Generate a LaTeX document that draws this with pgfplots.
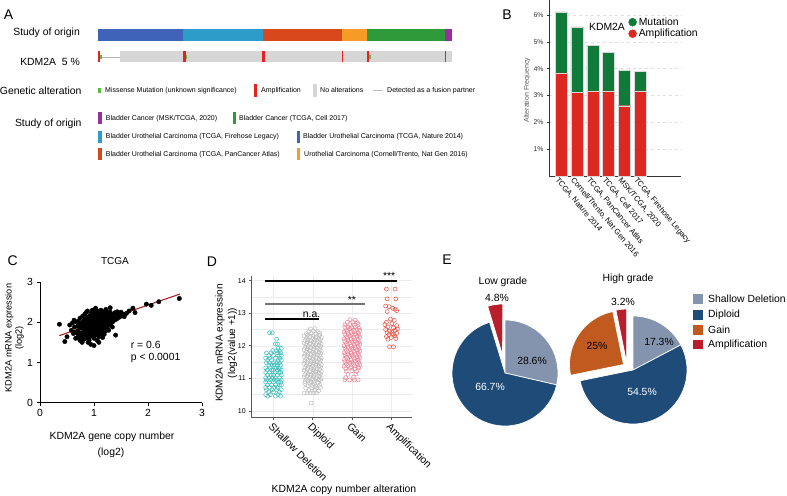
\documentclass[border=0pt]{standalone}
\usepackage{fontspec}
\setmainfont{Liberation Sans}
\usepackage{pgfplots}
\pgfplotsset{compat=1.18}
\usepgfplotslibrary{statistics}

\definecolor{stBlue}{RGB}{63,99,184}
\definecolor{stCyan}{RGB}{46,156,201}
\definecolor{stRed}{RGB}{217,72,28}
\definecolor{stOrange}{RGB}{245,155,38}
\definecolor{stGreen}{RGB}{47,154,58}
\definecolor{stPurple}{RGB}{154,45,160}
\definecolor{noAlt}{RGB}{214,214,214}
\definecolor{ampRed}{RGB}{232,32,32}
\definecolor{misGreen}{RGB}{90,190,60}
\definecolor{bMut}{RGB}{16,122,58}
\definecolor{bAmp}{RGB}{220,40,32}
\definecolor{dSD}{RGB}{59,189,189}
\definecolor{dDip}{RGB}{190,190,190}
\definecolor{dGain}{RGB}{238,130,150}
\definecolor{dAmp}{RGB}{232,74,60}
\definecolor{eSD}{RGB}{132,148,174}
\definecolor{eDip}{RGB}{31,75,120}
\definecolor{eGain}{RGB}{193,90,30}
\definecolor{eAmp}{RGB}{185,30,42}
\definecolor{fitRed}{RGB}{178,34,34}

\newcommand{\fs}[1]{\fontsize{#1bp}{#1bp}\selectfont}
% filled rectangle in the pixel-unit canvas axis
\newcommand{\rect}[5]{\addplot[fill=#5, draw=none] coordinates {(#1,#3) (#2,#3) (#2,#4) (#1,#4)};}

\begin{document}
\begin{tikzpicture}[x=1bp,y=1bp]
\useasboundingbox (0,0) rectangle (787,-496);

% pie angles (percent -> degrees, clockwise from top)
\pgfmathsetmacro\la{90-28.6*3.6}
\pgfmathsetmacro\lb{\la-66.7*3.6}
\pgfmathsetmacro\lc{\lb-4.8*3.6}
\pgfmathsetmacro\ha{90-17.3*3.6}
\pgfmathsetmacro\hb{\ha-54.5*3.6}
\pgfmathsetmacro\hc{\hb-25*3.6}
\pgfmathsetmacro\hd{\hc-3.2*3.6}

% ---------- canvas axis: panel A strips and panel E pies ----------
\begin{axis}[at={(0bp,-496bp)}, anchor=south west, scale only axis,
  width=787bp, height=496bp, xmin=0, xmax=787, ymin=0, ymax=496,
  y dir=reverse, hide axis, clip=false]
% study of origin strip
\rect{97.7}{183.3}{29.3}{40.7}{stBlue}
\rect{183.3}{262.7}{29.3}{40.7}{stCyan}
\rect{262.7}{341.7}{29.3}{40.7}{stRed}
\rect{341.7}{366.7}{29.3}{40.7}{stOrange}
\rect{366.7}{445}{29.3}{40.7}{stGreen}
\rect{445}{451.7}{29.3}{40.7}{stPurple}
% KDM2A row
\addplot[gray!60, line width=0.4bp] coordinates {(100,56.7) (120,56.7)};
\rect{120}{451.7}{51}{62.3}{noAlt}
\rect{97.7}{100}{51}{62.3}{ampRed}
\rect{100}{101.5}{54.5}{59}{misGreen}
\rect{183.3}{185.7}{51}{62.3}{ampRed}
\rect{185.7}{187.3}{54.5}{59}{misGreen}
\rect{262.3}{265}{51}{62.3}{ampRed}
\rect{341.7}{343}{51}{62.3}{ampRed}
\rect{366.7}{369}{51}{62.3}{ampRed}
\rect{369}{370.7}{54.5}{59}{misGreen}
\rect{445}{446.3}{51}{62.3}{ampRed}
% genetic alteration legend
\rect{98}{101}{88}{93}{misGreen}
\rect{254}{257.3}{84}{97}{ampRed}
\rect{313}{317}{84}{97}{noAlt}
\addplot[gray!50, line width=0.4bp] coordinates {(373,90.5) (383,90.5)};
% study of origin legend
\rect{98.3}{101.7}{112.3}{124.3}{stPurple}
\rect{232.7}{236}{112.3}{124.3}{stGreen}
\rect{98.3}{101.7}{130.7}{142.7}{stCyan}
\rect{296.7}{300}{130.7}{142.7}{stBlue}
\rect{98.3}{101.7}{148.3}{160.3}{stRed}
\rect{297}{300.3}{148.3}{160.3}{stOrange}
% pies
\filldraw[fill=eSD, draw=white, line width=0.7bp] (axis cs:505,373) -- ++(90:53bp) arc[start angle=90, end angle=\la, radius=53bp] -- cycle;
\filldraw[fill=eDip, draw=white, line width=0.7bp] (axis cs:505,373) -- ++(\la:53bp) arc[start angle=\la, end angle=\lb, radius=53bp] -- cycle;
\filldraw[fill=eAmp, draw=white, line width=0.7bp] (axis cs:502.5,355) -- ++(\lb:51bp) arc[start angle=\lb, end angle=\lc, radius=51bp] -- cycle;
\filldraw[fill=eSD, draw=white, line width=0.7bp] (axis cs:633,370) -- ++(90:54bp) arc[start angle=90, end angle=\ha, radius=54bp] -- cycle;
\filldraw[fill=eDip, draw=white, line width=0.7bp] (axis cs:633,370) -- ++(\ha:54bp) arc[start angle=\ha, end angle=\hb, radius=54bp] -- cycle;
\filldraw[fill=eGain, draw=white, line width=0.7bp] (axis cs:623.5,364.5) -- ++(\hb:54bp) arc[start angle=\hb, end angle=\hc, radius=54bp] -- cycle;
\filldraw[fill=eAmp, draw=white, line width=0.7bp] (axis cs:626.7,363) -- ++(\hc:54bp) arc[start angle=\hc, end angle=\hd, radius=54bp] -- cycle;
% pie legend
\rect{693}{702.5}{294.3}{303.8}{eSD}
\rect{693}{702.5}{310}{319.5}{eDip}
\rect{693}{702.5}{325.3}{334.8}{eGain}
\rect{693}{702.5}{339.8}{349.3}{eAmp}
\end{axis}

% ---------- panel B ----------
\begin{axis}[at={(549bp,-176bp)}, anchor=south west, scale only axis,
  width=132bp, height=176bp, xmin=-0.77, xmax=7.58, ymin=0, ymax=6.56,
  ybar stacked, bar width=12bp,
  axis x line=bottom, axis y line=left, axis line style={-, black!80, line width=0.6bp},
  xtick={0,...,5},
  xticklabels={{TCGA, Nature 2014},{Cornell/Trento, Nat Gen 2016},{TCGA, PanCancer Atlas},{TCGA, Cell 2017},{MSK/TCGA, 2020},{TCGA, Firehose Legacy}},
  x tick label style={rotate=-50, anchor=north west, font=\fs{7.7}, inner sep=0.5bp, xshift=-3bp},
  xtick style={draw=none},
  ytick={1,...,6}, yticklabel={\pgfmathprintnumber{\tick}\%},
  y tick label style={font=\fs{6.9}, text=black!80},
  ytick style={black!80, line width=0.5bp}, tick align=outside, major tick length=2bp,
  ymajorgrids, major grid style={gray!25, dashed, line width=0.4bp},
  /pgf/number format/assume math mode=true,
  legend style={at={(0.6,0.912)}, anchor=north west, draw=none, fill=none,
    font=\fs{10.4}, row sep=-1.5bp, inner sep=0pt, cells={anchor=west}},
  ]
\addlegendimage{legend image code/.code={\fill[bMut] (0.2cm,0cm) circle (4bp);}}
\addlegendimage{legend image code/.code={\fill[bAmp] (0.2cm,0cm) circle (4bp);}}
\legend{Mutation, Amplification}
\addplot[fill=bAmp, draw=white!85!black, line width=0.4bp] coordinates {(0,3.84) (1,3.12) (2,3.17) (3,3.17) (4,2.62) (5,3.17)};
\addplot[fill=bMut, draw=white!85!black, line width=0.4bp] coordinates {(0,2.28) (1,2.44) (2,1.705) (3,1.45) (4,1.33) (5,0.73)};
\end{axis}

% ---------- panel C ----------
\begin{axis}[at={(40bp,-402.7bp)}, anchor=south west, scale only axis,
  width=162bp, height=120.7bp, xmin=0, xmax=3, ymin=0, ymax=3,
  axis x line=bottom, axis y line=left, axis line style={-, line width=0.8bp},
  xtick={0,1,2,3}, ytick={0,1,2,3},
  tick align=outside, major tick length=3.5bp, tick style={line width=0.8bp, black},
  ticklabel style={font=\fs{10.4}},
  /pgf/number format/assume math mode=true, clip=false]
\addplot[only marks, mark=*, mark size=2.2bp, black] coordinates {
(0.70,1.62) (0.70,1.78) (0.70,1.90) (0.70,2.02) (0.71,1.70)
(0.74,1.55) (0.74,1.85) (0.73,1.96) (0.74,2.10) (0.75,1.68)
(0.78,1.60) (0.78,1.74) (0.77,1.88) (0.78,2.00) (0.79,2.15) (0.78,1.50)
(0.82,1.66) (0.82,1.80) (0.81,1.93) (0.82,2.05) (0.83,2.20) (0.82,1.58)
(0.85,1.72) (0.85,1.85) (0.86,1.97) (0.85,2.08) (0.85,1.62) (0.86,2.25)
(0.88,1.68) (0.88,1.78) (0.89,1.90) (0.88,2.00) (0.88,2.12) (0.89,1.50) (0.88,2.28)
(0.91,1.62) (0.91,1.75) (0.92,1.86) (0.91,1.95) (0.91,2.05) (0.92,2.16) (0.91,1.55)
(0.94,1.70) (0.94,1.82) (0.95,1.92) (0.94,2.02) (0.94,2.10) (0.95,2.22) (0.94,1.45)
(0.97,1.65) (0.97,1.76) (0.98,1.88) (0.97,1.98) (0.97,2.07) (0.98,2.18) (0.97,2.30)
(1.00,1.60) (1.00,1.72) (1.01,1.84) (1.00,1.94) (1.00,2.03) (1.01,2.12) (1.00,2.25) (1.00,1.42)
(1.03,1.68) (1.03,1.80) (1.04,1.90) (1.03,2.00) (1.03,2.09) (1.04,2.20) (1.03,2.35)
(1.06,1.74) (1.06,1.86) (1.07,1.96) (1.06,2.05) (1.06,2.15) (1.07,2.28) (1.06,1.55)
(1.09,1.64) (1.09,1.78) (1.10,1.90) (1.09,2.00) (1.09,2.10) (1.10,2.22) (1.09,1.50)
(1.12,1.70) (1.12,1.84) (1.13,1.95) (1.12,2.06) (1.12,2.16) (1.13,2.30)
(1.15,1.76) (1.15,1.88) (1.16,1.98) (1.15,2.08) (1.15,2.20) (1.16,1.62)
(1.18,1.82) (1.18,1.93) (1.19,2.03) (1.18,2.12) (1.18,2.25) (1.19,1.70)
(1.21,1.78) (1.21,1.90) (1.22,2.00) (1.21,2.10) (1.21,2.18) (1.22,2.32)
(1.24,1.85) (1.24,1.96) (1.25,2.06) (1.24,2.15) (1.24,2.26)
(1.27,1.92) (1.27,2.02) (1.28,2.12) (1.27,2.22) (1.27,1.80)
(1.30,1.95) (1.30,2.05) (1.31,2.15) (1.30,2.25) (1.30,2.36)
(1.34,2.00) (1.34,2.10) (1.35,2.20) (1.34,1.88)
(1.38,2.05) (1.38,2.15) (1.39,2.24) (1.40,1.68)
(1.42,2.08) (1.42,2.18) (1.43,2.26)
(1.46,2.12) (1.46,2.21) (1.50,2.15) (1.50,2.25) (1.55,2.20) (1.56,2.14)
(1.60,2.22) (1.65,2.28)
(0.36,1.95) (0.46,1.52) (0.50,1.64) (0.55,1.93) (0.58,1.80) (0.62,1.72)
(0.64,1.88) (0.66,1.60) (0.68,2.00) (0.60,1.98) (0.66,1.75) (0.63,2.05)
(1.72,2.35) (1.76,2.24) (1.97,2.45) (2.06,2.42) (2.20,2.51) (2.58,2.59)
};
\addplot[fitRed, line width=1.1bp] coordinates {(0.357,1.667) (2.59,2.70)};
\end{axis}

% ---------- panel D ----------
\begin{axis}[at={(251.7bp,-417.7bp)}, anchor=south west, scale only axis,
  width=160.6bp, height=142bp, xmin=-0.556, xmax=3.54, ymin=9.79, ymax=14.15,
  axis x line=bottom, axis y line=left, axis line style={-, black!65, line width=0.7bp},
  xtick={0,1,2,3}, xticklabels={Shallow Deletion, Diploid, Gain, Amplification},
  x tick label style={rotate=-45, anchor=north west, font=\fs{10.4}, inner sep=1bp},
  ytick={10,...,14}, minor ytick={10.5,11.5,12.5,13.5},
  y tick label style={font=\fs{7}},
  tick align=outside, major tick length=2.5bp, minor tick length=0pt,
  tick style={black!65, line width=0.5bp},
  grid=both, major grid style={gray!15, line width=0.4bp}, minor grid style={gray!15, line width=0.4bp},
  boxplot/every median/.style={draw=gray!45, line width=0.6bp},
  /pgf/number format/assume math mode=true, clip=false]
\addplot[boxplot prepared={draw position=0, lower whisker=10.45, lower quartile=11.0, median=11.31, upper quartile=11.56, upper whisker=12.4, box extend=0.65, whisker extend=0.9}, draw=gray!25, fill=gray!12, line width=0.5bp] coordinates {};
\addplot[boxplot prepared={draw position=1, lower whisker=10.54, lower quartile=11.34, median=11.59, upper quartile=11.85, upper whisker=12.57, box extend=0.65, whisker extend=0.9}, draw=gray!25, fill=gray!12, line width=0.5bp] coordinates {};
\addplot[boxplot prepared={draw position=2, lower whisker=10.95, lower quartile=11.65, median=11.9, upper quartile=12.16, upper whisker=12.81, box extend=0.65, whisker extend=0.9}, draw=gray!25, fill=gray!12, line width=0.5bp] coordinates {};
\addplot[boxplot prepared={draw position=3, lower whisker=11.97, lower quartile=12.26, median=12.46, upper quartile=13.08, upper whisker=13.74, box extend=0.65, whisker extend=0.9}, draw=gray!25, fill=gray!12, line width=0.5bp] coordinates {};
% shallow deletion
\addplot[only marks, mark=o, mark size=2bp, dSD, line width=0.5bp] coordinates {
(-0.15,10.45) (0.05,10.45) (0.18,10.45)
(-0.08,10.50) (0.12,10.50) (-0.20,10.50)
(0.00,10.58) (-0.12,10.58) (0.15,10.58)
(-0.18,10.65) (0.08,10.65) (-0.03,10.65) (0.20,10.65)
(0.10,10.72) (-0.10,10.72) (-0.20,10.72) (0.03,10.72)
(-0.05,10.80) (0.15,10.80) (-0.15,10.80) (0.20,10.80) (0.05,10.80)
(-0.20,10.88) (0.00,10.88) (0.12,10.88) (-0.10,10.88) (0.18,10.88)
(0.08,10.95) (-0.08,10.95) (0.20,10.95) (-0.18,10.95) (0.02,10.95)
(-0.12,11.02) (0.05,11.02) (0.16,11.02) (-0.02,11.02) (-0.20,11.02)
(0.10,11.10) (-0.15,11.10) (0.00,11.10) (0.20,11.10) (-0.06,11.10)
(-0.10,11.18) (0.14,11.18) (-0.20,11.18) (0.04,11.18) (0.18,11.18)
(0.00,11.25) (-0.16,11.25) (0.10,11.25) (0.20,11.25) (-0.05,11.25)
(-0.08,11.32) (0.12,11.32) (-0.20,11.32) (0.06,11.32) (0.17,11.32)
(0.02,11.40) (-0.12,11.40) (0.18,11.40) (-0.04,11.40) (0.10,11.40)
(-0.18,11.48) (0.08,11.48) (0.00,11.48) (0.15,11.48) (-0.10,11.48)
(0.12,11.55) (-0.05,11.55) (0.20,11.55) (-0.15,11.55)
(-0.10,11.62) (0.05,11.62) (0.16,11.62) (-0.20,11.62)
(0.00,11.70) (0.14,11.70) (-0.12,11.70) (0.20,11.70)
(-0.06,11.78) (0.10,11.78) (0.18,11.78) (-0.18,11.78)
(0.08,11.85) (0.15,11.85) (-0.02,11.85)
(0.12,11.92) (0.20,11.92) (0.05,12.05) (0.10,12.05) (0.08,12.20)
(-0.10,12.40) (-0.03,12.40)
};
% diploid
\addplot[only marks, mark=o, mark size=2bp, dDip, line width=0.5bp] coordinates {
(0.96,10.24)
(0.78,10.55) (0.86,10.55) (0.94,10.55) (1.02,10.55) (1.10,10.55)
(0.90,10.62) (1.05,10.63) (1.15,10.61)
(0.82,10.70) (0.98,10.71) (1.10,10.69) (1.20,10.72)
(0.88,10.77) (1.00,10.78) (1.08,10.76) (1.18,10.79)
(0.80,10.84) (0.92,10.85) (1.04,10.83) (1.14,10.86)
(0.80,10.90) (0.88,10.92) (0.96,10.89) (1.04,10.91) (1.12,10.88) (1.20,10.93)
(0.84,10.97) (0.92,10.99) (1.00,10.96) (1.08,10.98) (1.16,10.95) (1.22,11.00)
(0.78,11.04) (0.86,11.06) (0.94,11.03) (1.02,11.05) (1.10,11.02) (1.18,11.07)
(0.80,11.11) (0.88,11.13) (0.96,11.10) (1.04,11.12) (1.12,11.09) (1.20,11.14)
(0.84,11.18) (0.92,11.20) (1.00,11.17) (1.08,11.19) (1.16,11.16) (1.22,11.21)
(0.78,11.25) (0.86,11.27) (0.94,11.24) (1.02,11.26) (1.10,11.23) (1.18,11.28)
(0.80,11.32) (0.88,11.34) (0.96,11.31) (1.04,11.33) (1.12,11.30) (1.20,11.35)
(0.84,11.39) (0.92,11.41) (1.00,11.38) (1.08,11.40) (1.16,11.37) (1.22,11.42)
(0.78,11.46) (0.86,11.48) (0.94,11.45) (1.02,11.47) (1.10,11.44) (1.18,11.49)
(0.80,11.53) (0.88,11.55) (0.96,11.52) (1.04,11.54) (1.12,11.51) (1.20,11.56)
(0.84,11.60) (0.92,11.62) (1.00,11.59) (1.08,11.61) (1.16,11.58) (1.22,11.63)
(0.78,11.67) (0.86,11.69) (0.94,11.66) (1.02,11.68) (1.10,11.65) (1.18,11.70)
(0.80,11.74) (0.88,11.76) (0.96,11.73) (1.04,11.75) (1.12,11.72) (1.20,11.77)
(0.84,11.81) (0.92,11.83) (1.00,11.80) (1.08,11.82) (1.16,11.79) (1.22,11.84)
(0.78,11.88) (0.86,11.90) (0.94,11.87) (1.02,11.89) (1.10,11.86) (1.18,11.91)
(0.80,11.95) (0.88,11.97) (0.96,11.94) (1.04,11.96) (1.12,11.93) (1.20,11.98)
(0.84,12.02) (0.92,12.04) (1.00,12.01) (1.08,12.03) (1.16,12.00) (1.22,12.05)
(0.78,12.09) (0.86,12.11) (0.94,12.08) (1.02,12.10) (1.10,12.07) (1.18,12.12)
(0.80,12.16) (0.88,12.18) (0.96,12.15) (1.04,12.17) (1.12,12.14) (1.20,12.19)
(0.84,12.23) (0.92,12.25) (1.00,12.22) (1.08,12.24) (1.16,12.21) (1.22,12.26)
(0.78,12.30) (0.86,12.32) (0.94,12.29) (1.02,12.31) (1.10,12.28) (1.18,12.33)
(0.84,12.37) (0.96,12.38) (1.08,12.36) (1.18,12.39)
(0.90,12.44) (1.02,12.45) (1.14,12.43)
(0.94,12.52) (1.06,12.53)
};
% gain
\addplot[only marks, mark=o, mark size=2bp, dGain, line width=0.5bp] coordinates {
(1.95,12.80) (2.08,12.79)
(1.88,12.72) (2.02,12.73) (2.14,12.71)
(1.82,12.64) (1.94,12.65) (2.06,12.63) (2.16,12.66)
(1.82,12.56) (1.91,12.58) (2.00,12.55) (2.09,12.57) (2.18,12.54)
(1.86,12.49) (1.95,12.51) (2.04,12.48) (2.13,12.50) (2.20,12.47)
(1.80,12.42) (1.89,12.44) (1.98,12.41) (2.07,12.43) (2.16,12.40)
(1.82,12.35) (1.91,12.37) (2.00,12.34) (2.09,12.36) (2.18,12.33)
(1.86,12.28) (1.95,12.30) (2.04,12.27) (2.13,12.29) (2.20,12.26)
(1.80,12.21) (1.89,12.23) (1.98,12.20) (2.07,12.22) (2.16,12.19)
(1.82,12.14) (1.91,12.16) (2.00,12.13) (2.09,12.15) (2.18,12.12)
(1.86,12.07) (1.95,12.09) (2.04,12.06) (2.13,12.08) (2.20,12.05)
(1.80,12.00) (1.89,12.02) (1.98,11.99) (2.07,12.01) (2.16,11.98)
(1.82,11.93) (1.91,11.95) (2.00,11.92) (2.09,11.94) (2.18,11.91)
(1.86,11.86) (1.95,11.88) (2.04,11.85) (2.13,11.87) (2.20,11.84)
(1.80,11.79) (1.89,11.81) (1.98,11.78) (2.07,11.80) (2.16,11.77)
(1.82,11.72) (1.91,11.74) (2.00,11.71) (2.09,11.73) (2.18,11.70)
(1.86,11.65) (1.95,11.67) (2.04,11.64) (2.13,11.66) (2.20,11.63)
(1.80,11.58) (1.89,11.60) (1.98,11.57) (2.07,11.59) (2.16,11.56)
(1.82,11.51) (1.91,11.53) (2.00,11.50) (2.09,11.52) (2.18,11.49)
(1.86,11.44) (1.95,11.46) (2.04,11.43) (2.13,11.45) (2.20,11.42)
(1.80,11.37) (1.89,11.39) (1.98,11.36) (2.07,11.38) (2.16,11.35)
(1.84,11.30) (1.96,11.31) (2.08,11.29) (2.18,11.32)
(1.85,11.22) (2.00,11.23) (2.12,11.21)
(1.90,11.12) (2.10,11.13) (1.84,11.02) (2.04,11.03)
(1.82,10.95) (1.94,10.95) (2.06,10.95) (2.16,10.95)
};
% amplification
\addplot[only marks, mark=o, mark size=2bp, dAmp, line width=0.5bp] coordinates {
(2.88,13.74) (3.10,13.74) (2.90,13.44) (3.12,13.44)
(2.86,13.22) (2.95,13.20) (3.04,13.15) (3.10,13.12) (2.90,13.05) (3.14,13.08)
(2.98,12.82) (3.08,12.78) (2.88,12.72) (3.02,12.68) (3.14,12.62) (2.92,12.58)
(3.06,12.55) (2.86,12.50) (3.10,12.48) (2.96,12.45) (3.02,12.42) (2.90,12.40)
(3.14,12.38) (3.06,12.36) (2.94,12.34) (3.10,12.30) (2.88,12.28) (3.00,12.25)
(3.12,12.22) (2.92,12.20) (2.96,11.97) (3.06,11.97) (3.16,12.52) (2.84,12.65)
};
% significance bars
\addplot[black, line width=2bp] coordinates {(-0.22,12.81) (1.17,12.81)};
\addplot[black!55, line width=2bp] coordinates {(-0.22,13.29) (2.33,13.29)};
\addplot[black, line width=2bp] coordinates {(-0.22,14.0) (3.14,14.0)};
\node[font=\fs{10.4}, anchor=south, inner sep=1.5bp] at (axis cs:0.97,12.81) {n.a.};
\node[font=\fs{10.4}, anchor=south, inner sep=0.5bp] at (axis cs:2.0,13.29) {**};
\node[font=\fs{10.4}, anchor=south, inner sep=0.5bp] at (axis cs:2.95,14.0) {***};
\end{axis}

% ---------- texts ----------
\node[font=\fs{14}] at (8.5,-14.7) {A};
\node[font=\fs{10.4}, anchor=east, inner sep=0pt] at (80,-33.3) {Study of origin};
\node[font=\fs{10.4}, anchor=east, inner sep=0pt] at (80,-62) {KDM2A\ \ 5 \%};
\node[font=\fs{10.4}, anchor=east, inner sep=0pt] at (81.7,-91) {Genetic alteration};
\node[font=\fs{10.4}, anchor=east, inner sep=0pt] at (81.7,-124) {Study of origin};
\begin{scope}[every node/.style={font=\fs{7}, anchor=west, inner sep=0pt}]
\node at (105,-90.5) {Missense Mutation (unknown significance)};
\node at (261,-90.5) {Amplification};
\node at (320,-90.5) {No alterations};
\node at (387,-90.5) {Detected as a fusion partner};
\node at (105.7,-118.3) {Bladder Cancer (MSK/TCGA, 2020)};
\node at (239,-118.3) {Bladder Cancer (TCGA, Cell 2017)};
\node at (105.7,-136.7) {Bladder Urothelial Carcinoma (TCGA, Firehose Legacy)};
\node at (303,-136.7) {Bladder Urothelial Carcinoma (TCGA, Nature 2014)};
\node at (105.7,-154.3) {Bladder Urothelial Carcinoma (TCGA, PanCancer Atlas)};
\node at (304,-154.3) {Urothelial Carcinoma (Cornell/Trento, Nat Gen 2016)};
\end{scope}

\node[font=\fs{14}] at (507,-15) {B};
\node[font=\fs{10.4}] at (607,-27) {KDM2A};
\node[font=\fs{7}, rotate=90, text=black!65] at (527,-90) {Alteration Frequency};

\node[font=\fs{14}] at (12.7,-261) {C};
\node[font=\fs{10}] at (115,-261) {TCGA};
\node[font=\fs{9.2}, rotate=90] at (9.3,-338) {KDM2A mRNA expression};
\node[font=\fs{9.2}, rotate=90] at (19.5,-338) {(log2)};
\node[font=\fs{10.4}] at (112,-437) {KDM2A gene copy number};
\node[font=\fs{10.4}] at (111,-453) {(log2)};
\node[font=\fs{10.4}, anchor=west, inner sep=0pt] at (130.7,-345) {r = 0.6};
\node[font=\fs{10.4}, anchor=west, inner sep=0pt] at (130.7,-357.5) {p < 0.0001};

\node[font=\fs{14}] at (212,-262) {D};
\node[font=\fs{10}, rotate=90] at (220,-343) {KDM2A mRNA expression};
\node[font=\fs{10}, rotate=90] at (232.5,-343) {(log2(value +1))};
\node[font=\fs{10.4}] at (344,-490) {KDM2A copy number alteration};

\node[font=\fs{14}] at (447,-260) {E};
\node[font=\fs{10.4}] at (503,-282) {Low grade};
\node[font=\fs{10.4}] at (497,-298) {4.8\%};
\node[font=\fs{10.4}] at (532,-361) {28.6\%};
\node[font=\fs{10.4}, text=white] at (490,-387) {66.7\%};
\node[font=\fs{10.4}] at (628,-279) {High grade};
\node[font=\fs{10.4}] at (623,-302) {3.2\%};
\node[font=\fs{10.4}] at (597,-346) {25\%};
\node[font=\fs{10.4}] at (659,-342) {17.3\%};
\node[font=\fs{10.4}, text=white] at (642,-392) {54.5\%};
\begin{scope}[every node/.style={font=\fs{10.4}, anchor=west, inner sep=0pt}]
\node at (708,-299) {Shallow Deletion};
\node at (708,-314.7) {Diploid};
\node at (708,-330) {Gain};
\node at (708,-344.5) {Amplification};
\end{scope}
\end{tikzpicture}
\end{document}
